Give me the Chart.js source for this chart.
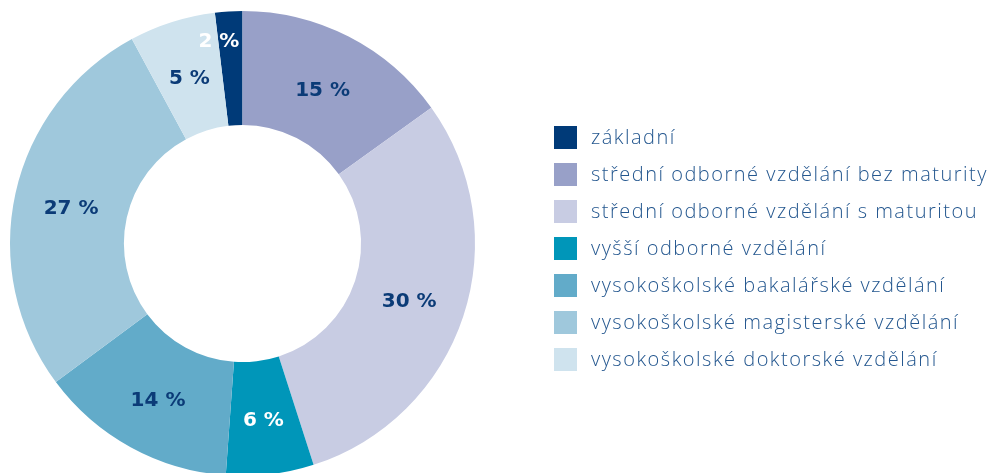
<!DOCTYPE html>
<html>
<head>
<meta charset="utf-8">
<script src="https://cdn.jsdelivr.net/npm/chart.js@4"></script>
<style>
  html, body { margin: 0; padding: 0; background: #fff; overflow: hidden; }
  #wrap { position: relative; width: 995px; height: 480px; }
  #legend { position: absolute; left: 554px; top: 126px; font-family: "Open Sans", sans-serif; font-weight: 300; font-size: 20px; letter-spacing: 1.5px; color: #24578f; }
  #legend div { height: 37px; display: flex; align-items: flex-start; white-space: nowrap; }
  #legend span.box { width: 23px; height: 23px; margin-right: 14px; flex: none; }
  #legend span.txt { line-height: 23px; margin-top: -1px; }
</style>
</head>
<body>
<div id="wrap">
  <canvas id="eduChart" width="995" height="480"></canvas>
  <div id="legend"></div>
</div>
<script>
const labels = [
  "základní",
  "střední odborné vzdělání bez maturity",
  "střední odborné vzdělání s maturitou",
  "vyšší odborné vzdělání",
  "vysokoškolské bakalářské vzdělání",
  "vysokoškolské magisterské vzdělání",
  "vysokoškolské doktorské vzdělání"
];
// slice sizes as drawn in the picture (%)
const shares = [1.9, 15.1, 30.0, 6.1, 13.7, 27.3, 6.0];
// percentages printed on the slices
const printed = [2, 15, 30, 6, 14, 27, 5];
const colors = ["#003a78", "#98a0c8", "#c8cce3", "#0096b9", "#62abc9", "#9fc8dc", "#cfe3ee"];
const labelColors = ["#ffffff", "#0b3b77", "#0b3b77", "#ffffff", "#0b3b77", "#0b3b77", "#0b3b77"];

const total = shares.reduce((a, b) => a + b, 0);

// percent labels drawn in the middle of each slice
const sliceLabels = {
  id: "sliceLabels",
  afterDatasetsDraw(chart) {
    const ctx = chart.ctx;
    const meta = chart.getDatasetMeta(0);
    ctx.save();
    ctx.font = "bold 20px 'DejaVu Sans', sans-serif";
    ctx.textAlign = "center";
    ctx.textBaseline = "middle";
    meta.data.forEach((arc, i) => {
      const p = arc.getProps(["x", "y", "startAngle", "endAngle", "innerRadius", "outerRadius"], true);
      let mid = (p.startAngle + p.endAngle) / 2;
      let r = (p.innerRadius + p.outerRadius) / 2;
      if (shares[i] < 3) { r = p.outerRadius - 26; mid -= 0.055; } // small slice: push out
      const x = p.x + Math.cos(mid) * r;
      const y = p.y + Math.sin(mid) * r + 3;
      ctx.fillStyle = labelColors[i];
      ctx.fillText(printed[i] + " %", x, y);
    });
    ctx.restore();
  }
};

new Chart(document.getElementById("eduChart"), {
  type: "doughnut",
  data: {
    labels: labels,
    datasets: [{
      data: shares,
      backgroundColor: colors,
      borderWidth: 0,
      hoverOffset: 0
    }]
  },
  options: {
    responsive: false,
    maintainAspectRatio: false,
    animation: false,
    cutout: "51%",
    rotation: -(shares[0] / total) * 360,
    layout: { padding: { left: 10, top: 11, right: 520, bottom: 4 } },
    plugins: {
      legend: { display: false },
      tooltip: { enabled: false }
    }
  },
  plugins: [sliceLabels]
});

const legend = document.getElementById("legend");
labels.forEach((l, i) => {
  const row = document.createElement("div");
  row.innerHTML = '<span class="box" style="background:' + colors[i] + '"></span><span class="txt">' + l + '</span>';
  legend.appendChild(row);
});
</script>
</body>
</html>
